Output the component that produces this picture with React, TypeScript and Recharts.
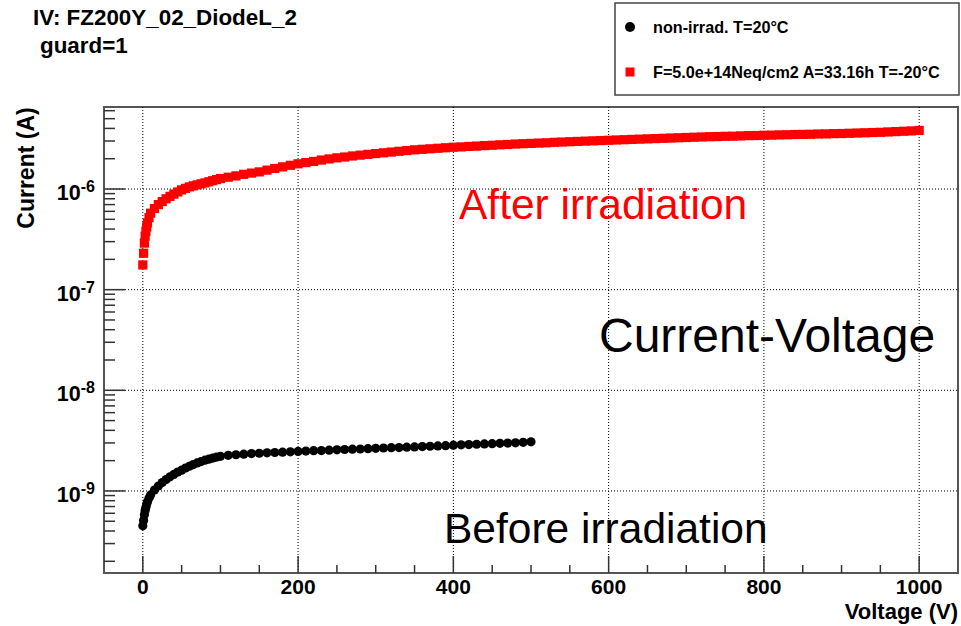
import React from 'react';
import { ScatterChart, Scatter, XAxis, YAxis, ReferenceLine, ReferenceArea } from 'recharts';

const FONT = '"Liberation Sans", Arial, Helvetica, sans-serif';

// non-irrad. T=20°C  (voltage in V, current in nA)
const beforeVoltage = [
  0, 1, 2, 3, 4, 5, 6, 8, 10, 15, 20, 25, 30, 35, 40, 45, 50, 55, 60, 65, 70, 75, 80, 85, 90, 95,
  100, 110, 120, 130, 140, 150, 160, 170, 180, 190, 200, 210, 220, 230, 240, 250, 260, 270, 280, 290,
  300, 310, 320, 330, 340, 350, 360, 370, 380, 390, 400, 410, 420, 430, 440, 450, 460, 470, 480, 490, 500,
];
const beforeCurrentNA = [
  0.45, 0.51, 0.58, 0.64, 0.69, 0.74, 0.78, 0.85, 0.91, 1.02, 1.12, 1.21, 1.3, 1.38, 1.46, 1.54, 1.61,
  1.69, 1.76, 1.83, 1.9, 1.96, 2.02, 2.07, 2.12, 2.17, 2.21, 2.26, 2.29, 2.32, 2.35, 2.37, 2.39, 2.41,
  2.43, 2.45, 2.47, 2.49, 2.51, 2.52, 2.54, 2.56, 2.58, 2.6, 2.61, 2.63, 2.65, 2.67, 2.69, 2.7, 2.72,
  2.74, 2.76, 2.78, 2.8, 2.82, 2.85, 2.87, 2.89, 2.91, 2.93, 2.95, 2.97, 2.99, 3.01, 3.04, 3.08,
];

// F=5.0e+14Neq/cm2 A=33.16h T=-20°C  (voltage in V, current in uA)
const afterVoltage = [
  0, 1, 2, 3, 4, 5, 6, 8, 10, 15, 20, 25, 30, 35, 40, 45, 50, 55, 60, 65, 70, 75, 80, 85, 90, 95,
  100, 110, 120, 130, 140, 150, 160, 170, 180, 190, 200, 210, 220, 230, 240, 250, 260, 270, 280, 290,
  300, 310, 320, 330, 340, 350, 360, 370, 380, 390, 400, 410, 420, 430, 440, 450, 460, 470, 480, 490,
  500, 510, 520, 530, 540, 550, 560, 570, 580, 590, 600, 610, 620, 630, 640, 650, 660, 670, 680, 690,
  700, 710, 720, 730, 740, 750, 760, 770, 780, 790, 800, 810, 820, 830, 840, 850, 860, 870, 880, 890,
  900, 910, 920, 930, 940, 950, 960, 970, 980, 990, 1000,
];
const afterCurrentUA = [
  0.176, 0.23, 0.29, 0.34, 0.38, 0.42, 0.46, 0.52, 0.575, 0.64, 0.7, 0.75, 0.8, 0.845, 0.89, 0.935,
  0.98, 1.015, 1.05, 1.075, 1.1, 1.125, 1.15, 1.18, 1.21, 1.24, 1.27, 1.31, 1.35, 1.4, 1.44, 1.48,
  1.54, 1.6, 1.66, 1.72, 1.78, 1.83, 1.88, 1.94, 1.99, 2.04, 2.08, 2.13, 2.17, 2.21, 2.25, 2.29, 2.33,
  2.37, 2.41, 2.45, 2.48, 2.51, 2.54, 2.57, 2.6, 2.62, 2.65, 2.67, 2.7, 2.72, 2.75, 2.77, 2.8, 2.82,
  2.84, 2.86, 2.88, 2.91, 2.93, 2.95, 2.97, 2.99, 3.01, 3.03, 3.05, 3.07, 3.09, 3.11, 3.13, 3.15, 3.17,
  3.19, 3.21, 3.23, 3.25, 3.27, 3.29, 3.31, 3.32, 3.34, 3.35, 3.37, 3.39, 3.4, 3.42, 3.43, 3.45, 3.46,
  3.48, 3.49, 3.5, 3.52, 3.53, 3.55, 3.56, 3.58, 3.6, 3.62, 3.64, 3.66, 3.69, 3.72, 3.75, 3.78, 3.82,
];

const xTicks = [
  0, 50, 100, 150, 200, 250, 300, 350, 400, 450, 500, 550, 600, 650, 700, 750, 800, 850, 900, 950, 1000,
];
const xGrid = [0, 200, 400, 600, 800, 1000];
const yTicks = [
  2e-10, 3e-10, 4e-10, 5e-10, 6e-10, 7e-10, 8e-10, 9e-10,
  1e-9, 2e-9, 3e-9, 4e-9, 5e-9, 6e-9, 7e-9, 8e-9, 9e-9,
  1e-8, 2e-8, 3e-8, 4e-8, 5e-8, 6e-8, 7e-8, 8e-8, 9e-8,
  1e-7, 2e-7, 3e-7, 4e-7, 5e-7, 6e-7, 7e-7, 8e-7, 9e-7,
  1e-6, 2e-6, 3e-6, 4e-6, 5e-6, 6e-6,
];
const yGrid = [1e-9, 1e-8, 1e-7, 1e-6];
const xDomain: [number, number] = [-50, 1050];
const yDomain: [number, number] = [1.53e-10, 6.53e-6];

const beforeData = beforeVoltage.map((v, i) => ({ v, i: beforeCurrentNA[i] * 1e-9 }));
const afterData = afterVoltage.map((v, i) => ({ v, i: afterCurrentUA[i] * 1e-6 }));

const isDecade = (val: number) => {
  const l = Math.log10(val);
  return Math.abs(l - Math.round(l)) < 1e-6;
};

const XTick = (props: any) => {
  const { x, y, payload } = props;
  const major = payload.value % 200 === 0;
  return (
    <g>
      <line x1={x} x2={x} y1={y} y2={y - (major ? 17 : 8)} stroke="#333" strokeWidth={1.5} />
      {major && (
        <text x={x} y={y + 21} textAnchor="middle" fontFamily={FONT} fontWeight="bold" fontSize={21} fill="#000">
          {payload.value}
        </text>
      )}
    </g>
  );
};

const YTick = (props: any) => {
  const { x, y, payload } = props;
  const major = isDecade(payload.value);
  const exp = Math.round(Math.log10(payload.value));
  return (
    <g>
      <line x1={x} x2={x + (major ? 21 : 11)} y1={y} y2={y} stroke="#333" strokeWidth={1.5} />
      {major && (
        <text x={x - 9} y={y + 11} textAnchor="end" fontFamily={FONT} fontWeight="bold" fontSize={21.5} fill="#000">
          10
          <tspan dy={-8} fontSize={16}>{exp}</tspan>
        </text>
      )}
    </g>
  );
};

const BlackDot = (p: any) => <circle cx={p.cx} cy={p.cy} r={4.6} fill="#000" />;
const RedSquare = (p: any) => <rect x={p.cx - 4.6} y={p.cy - 4.6} width={9.2} height={9.2} fill="#ff0000" />;

export default function App() {
  return (
    <div style={{ position: 'absolute', left: 0, top: 0, width: 961, height: 626, background: '#fff' }}>
      <ScatterChart width={961} height={626} margin={{ top: 107, right: 3, bottom: 0, left: 0 }}>
        <XAxis
          type="number"
          dataKey="v"
          domain={xDomain}
          allowDataOverflow
          ticks={xTicks}
          interval={0}
          height={53}
          tickSize={0}
          tickMargin={0}
          tickLine={false}
          axisLine={{ stroke: '#555', strokeWidth: 2 }}
          tick={(p: any) => <XTick {...p} />}
        />
        <YAxis
          type="number"
          dataKey="i"
          scale="log"
          domain={yDomain}
          allowDataOverflow
          ticks={yTicks}
          interval={0}
          width={104}
          tickSize={0}
          tickMargin={0}
          tickLine={false}
          axisLine={{ stroke: '#555', strokeWidth: 2 }}
          tick={(p: any) => <YTick {...p} />}
        />
        {xGrid.map((g) => (
          <ReferenceLine key={`gx${g}`} x={g} stroke="#000" strokeWidth={1} strokeDasharray="1 2" />
        ))}
        {yGrid.map((g) => (
          <ReferenceLine key={`gy${g}`} y={g} stroke="#000" strokeWidth={1} strokeDasharray="1 2" />
        ))}
        <ReferenceArea
          x1={xDomain[0]}
          x2={xDomain[1]}
          y1={yDomain[0]}
          y2={yDomain[1]}
          fill="none"
          fillOpacity={0}
          stroke="#555"
          strokeWidth={2}
          ifOverflow="visible"
        />
        <Scatter name="non-irrad. T=20°C" data={beforeData} shape={BlackDot} isAnimationActive={false} />
        <Scatter name="F=5.0e+14Neq/cm2 A=33.16h T=-20°C" data={afterData} shape={RedSquare} isAnimationActive={false} />
      </ScatterChart>

      <svg width={961} height={626} style={{ position: 'absolute', left: 0, top: 0, pointerEvents: 'none' }}>
        <g fontFamily={FONT}>
          <text x={33} y={25} fontSize={22.4} fontWeight="bold">IV: FZ200Y_02_DiodeL_2</text>
          <text x={40} y={53} fontSize={22.4} fontWeight="bold">guard=1</text>

          <rect x={615} y={3} width={344} height={92} fill="#fff" stroke="#444" strokeWidth={1.5} />
          <circle cx={630} cy={27} r={5} fill="#000" />
          <text x={653} y={33} fontSize={16.2} fontWeight="bold">non-irrad. T=20°C</text>
          <rect x={625.5} y={67.5} width={9} height={9} fill="#ff0000" />
          <text x={653} y={78} fontSize={16.2} fontWeight="bold">F=5.0e+14Neq/cm2 A=33.16h T=-20°C</text>

          <text x={34} y={168} fontSize={23} fontWeight="bold" textAnchor="middle" transform="rotate(-90 34 168)">
            Current (A)
          </text>
          <text x={958} y={619} fontSize={22} fontWeight="bold" textAnchor="end">Voltage (V)</text>

          <text x={459} y={219} fontSize={42.5} fill="#ff0000">After irradiation</text>
          <text x={599} y={352} fontSize={48} fill="#000">Current-Voltage</text>
          <text x={444} y={543} fontSize={42.5} fill="#000">Before irradiation</text>
        </g>
      </svg>
    </div>
  );
}
